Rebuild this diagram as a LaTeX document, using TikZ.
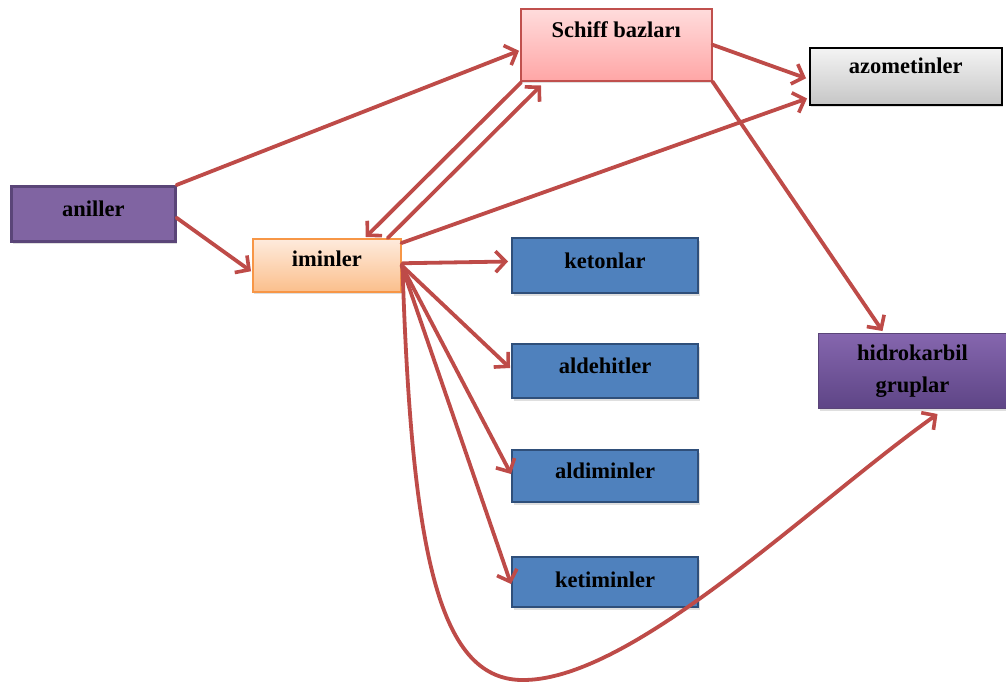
\documentclass[tikz,border=0pt]{standalone}
\usepackage{fontspec}
\setmainfont{Liberation Serif}
\usetikzlibrary{arrows.meta,calc,shadows}
\definecolor{arr}{HTML}{BE4B48}
\definecolor{pinkT}{HTML}{FFDCDC}
\definecolor{pinkB}{HTML}{FFA6A6}
\definecolor{sbD}{HTML}{C0504D}
\definecolor{grayT}{HTML}{F4F4F4}
\definecolor{grayB}{HTML}{C6C6C6}
\definecolor{purF}{HTML}{8064A2}
\definecolor{purD}{HTML}{5A4578}
\definecolor{purT}{HTML}{8566AE}
\definecolor{purB}{HTML}{5E4586}
\definecolor{orT}{HTML}{FEEBDD}
\definecolor{orB}{HTML}{FBBF8C}
\definecolor{orD}{HTML}{F79646}
\definecolor{blueF}{HTML}{4F81BD}
\definecolor{blueD}{HTML}{2F4F7A}
\tikzset{
  box/.style={draw, line width=1.5pt, font=\fontsize{22.5}{32}\selectfont\bfseries,
    inner xsep=0pt, inner ysep=0pt, anchor=north west,
    drop shadow={shadow xshift=1.5pt, shadow yshift=-2.5pt, opacity=0.25}},
  bluebox/.style={box, fill=blueF, draw=blueD, line width=2pt, minimum width=186pt},
  conn/.style={draw=arr, line width=3.8pt, line cap=round,
    -{Straight Barb[length=10pt,width=21pt,line width=3.6pt]}},
}
\begin{document}
\begin{tikzpicture}[x=1pt,y=-1pt]
\useasboundingbox (0,0) rectangle (1006,686);
% boxes
\node[box, minimum width=191pt, text height=29pt, text depth=43pt,
  top color=pinkT, bottom color=pinkB, draw=sbD] (sb) at (520,8) {Schiff bazları};
\node[box, minimum width=192pt, text height=26pt, text depth=31pt,
  top color=grayT, bottom color=grayB, draw=black] (az) at (809,47) {azometinler};
\node[box, minimum width=164pt, text height=30pt, text depth=25pt,
  fill=purF, draw=purD, line width=2.5pt] (an) at (10,185) {aniller};
\node[box, minimum width=148pt, text height=28pt, text depth=25pt,
  top color=orT, bottom color=orB, draw=orD] (im) at (252,238) {iminler};
\node[bluebox, text height=30pt, text depth=25pt] (ke) at (511,237) {ketonlar};
\node[bluebox, text height=29pt, text depth=25pt] (ad) at (511,343) {aldehitler};
\node[bluebox, text height=28pt, text depth=24pt] (adm) at (511,449) {aldiminler};
\node[bluebox, text height=30pt, text depth=20pt] (kt) at (511,556) {ketiminler};
\node[box, minimum width=188pt, minimum height=75pt, align=center,
  top color=purT, bottom color=purB, draw=purD, line width=1pt] (hk) at (818,333)
  {hidrokarbil\\gruplar};
% connectors
\draw[conn] (an.north east) -- ($(sb.west)+(-1,6)$);
\draw[conn] ($(an.east)+(0,4)$) -- ($(im.west)+(-1,6)$);
\draw[conn] ($(sb.south west)+(1,1)$) -- ($(im.north)+(39,-1)$);
\draw[conn] ($(im.north)+(61,0)$) -- ($(sb.south west)+(21,4)$);
\draw[conn] ($(im.north east)+(0,5)$) -- ($(az.south west)+(-2,-7)$);
\draw[conn] (sb.east) -- ($(az.west)+(-3,2)$);
\draw[conn] (sb.south east) -- ($(hk.north)+(-30,-2)$);
\draw[conn] ($(im.east)+(1,-2)$) -- ($(ke.west)+(-3,-4)$);
\draw[conn] (im.east) -- ($(ad.west)+(-1,-3)$);
\draw[conn] (im.east) -- ($(adm.west)+(0,-2)$);
\draw[conn] (im.east) -- ($(kt.west)+(0,2)$);
\draw[conn] ($(im.east)+(1,2)$) .. controls (412,560) and (440,682) .. (525,680)
  .. controls (635,678) and (810,505) .. ($(hk.south)+(25,5)$);
\end{tikzpicture}
\end{document}
